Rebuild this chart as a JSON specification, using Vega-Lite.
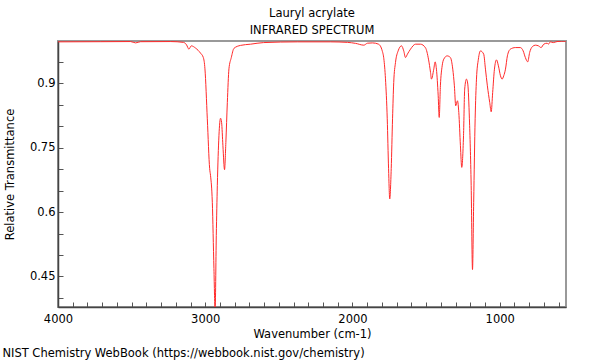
{
  "$schema": "https://vega.github.io/schema/vega-lite/v6.json",
  "background": "white",
  "padding": {"left": 2, "top": 6, "right": 5, "bottom": 2},
  "config": {
    "font": "DejaVu Sans",
    "view": {"stroke": "#999999", "strokeWidth": 2},
    "title": {"font": "DejaVu Sans", "fontWeight": "normal", "fontSize": 11.5, "color": "#000000"}
  },
  "title": {"text": "NIST Chemistry WebBook (https://webbook.nist.gov/chemistry)", "orient": "bottom", "anchor": "start", "fontSize": 11.5, "fontWeight": "normal", "offset": 7, "dx": -1},
  "vconcat": [
    {
      "width": 508,
      "height": 266,
      "title": {"text": ["Lauryl acrylate", "INFRARED SPECTRUM"], "fontSize": 11.5, "fontWeight": "normal", "lineHeight": 17, "offset": 5},
      "data": {"values": [
        {"wn": 4000, "t": 0.996}, {"wn": 3710, "t": 0.9964}, {"wn": 3507, "t": 0.9967}, {"wn": 3473, "t": 0.9936},
        {"wn": 3439, "t": 0.9964}, {"wn": 3235, "t": 0.9967}, {"wn": 3147, "t": 0.9948}, {"wn": 3127, "t": 0.989},
        {"wn": 3111, "t": 0.979}, {"wn": 3095, "t": 0.9867}, {"wn": 3065, "t": 0.9813}, {"wn": 3032, "t": 0.9697},
        {"wn": 3013, "t": 0.9595}, {"wn": 3002, "t": 0.9332}, {"wn": 2986, "t": 0.817}, {"wn": 2970, "t": 0.7009},
        {"wn": 2964, "t": 0.6846}, {"wn": 2952, "t": 0.6226}, {"wn": 2941, "t": 0.4686}, {"wn": 2933, "t": 0.37},
        {"wn": 2925, "t": 0.5452}, {"wn": 2918, "t": 0.6614}, {"wn": 2907, "t": 0.7776}, {"wn": 2896, "t": 0.8182},
        {"wn": 2889, "t": 0.8085}, {"wn": 2880, "t": 0.7543}, {"wn": 2869, "t": 0.6986}, {"wn": 2860, "t": 0.762},
        {"wn": 2850, "t": 0.8549}, {"wn": 2839, "t": 0.9332}, {"wn": 2823, "t": 0.9595}, {"wn": 2805, "t": 0.9809},
        {"wn": 2760, "t": 0.9878}, {"wn": 2692, "t": 0.9906}, {"wn": 2604, "t": 0.9943}, {"wn": 2373, "t": 0.996},
        {"wn": 2149, "t": 0.996}, {"wn": 2034, "t": 0.9948}, {"wn": 1979, "t": 0.9925}, {"wn": 1923, "t": 0.9883},
        {"wn": 1898, "t": 0.9929}, {"wn": 1864, "t": 0.9936}, {"wn": 1823, "t": 0.9906}, {"wn": 1798, "t": 0.975},
        {"wn": 1787, "t": 0.9565}, {"wn": 1776, "t": 0.91}, {"wn": 1764, "t": 0.817}, {"wn": 1755, "t": 0.7009},
        {"wn": 1747, "t": 0.6305}, {"wn": 1737, "t": 0.7009}, {"wn": 1728, "t": 0.817}, {"wn": 1720, "t": 0.9014},
        {"wn": 1708, "t": 0.9479}, {"wn": 1690, "t": 0.975}, {"wn": 1667, "t": 0.9867}, {"wn": 1652, "t": 0.975},
        {"wn": 1640, "t": 0.9595}, {"wn": 1627, "t": 0.9674}, {"wn": 1606, "t": 0.979}, {"wn": 1572, "t": 0.9906},
        {"wn": 1538, "t": 0.9906}, {"wn": 1504, "t": 0.982}, {"wn": 1484, "t": 0.9558}, {"wn": 1470, "t": 0.9246},
        {"wn": 1464, "t": 0.9093}, {"wn": 1448, "t": 0.9325}, {"wn": 1439, "t": 0.9495}, {"wn": 1430, "t": 0.9325},
        {"wn": 1418, "t": 0.8705}, {"wn": 1411, "t": 0.8201}, {"wn": 1403, "t": 0.8937}, {"wn": 1391, "t": 0.9402},
        {"wn": 1380, "t": 0.9558}, {"wn": 1357, "t": 0.9634}, {"wn": 1335, "t": 0.9595}, {"wn": 1319, "t": 0.9325},
        {"wn": 1308, "t": 0.8937}, {"wn": 1299, "t": 0.8473}, {"wn": 1287, "t": 0.8589}, {"wn": 1278, "t": 0.8317},
        {"wn": 1267, "t": 0.7543}, {"wn": 1258, "t": 0.7039}, {"wn": 1246, "t": 0.7776}, {"wn": 1238, "t": 0.8861},
        {"wn": 1226, "t": 0.9093}, {"wn": 1217, "t": 0.8977}, {"wn": 1206, "t": 0.817}, {"wn": 1194, "t": 0.6614},
        {"wn": 1185, "t": 0.4662}, {"wn": 1177, "t": 0.6226}, {"wn": 1167, "t": 0.817}, {"wn": 1158, "t": 0.9093},
        {"wn": 1145, "t": 0.9558}, {"wn": 1131, "t": 0.975}, {"wn": 1109, "t": 0.9674}, {"wn": 1097, "t": 0.9325},
        {"wn": 1084, "t": 0.8937}, {"wn": 1068, "t": 0.8549}, {"wn": 1058, "t": 0.8333}, {"wn": 1048, "t": 0.8782},
        {"wn": 1036, "t": 0.9325}, {"wn": 1022, "t": 0.9541}, {"wn": 1009, "t": 0.9402}, {"wn": 995, "t": 0.917},
        {"wn": 984, "t": 0.9093}, {"wn": 973, "t": 0.917}, {"wn": 961, "t": 0.9325}, {"wn": 948, "t": 0.9634},
        {"wn": 928, "t": 0.979}, {"wn": 894, "t": 0.9827}, {"wn": 860, "t": 0.9827}, {"wn": 841, "t": 0.975},
        {"wn": 826, "t": 0.9595}, {"wn": 810, "t": 0.9495}, {"wn": 797, "t": 0.9711}, {"wn": 778, "t": 0.985},
        {"wn": 758, "t": 0.9883}, {"wn": 737, "t": 0.9867}, {"wn": 719, "t": 0.9827}, {"wn": 701, "t": 0.9906},
        {"wn": 678, "t": 0.9929}, {"wn": 670, "t": 0.9906}, {"wn": 656, "t": 0.996}, {"wn": 636, "t": 0.9943},
        {"wn": 611, "t": 0.9967}, {"wn": 550, "t": 0.9976}
      ]},
      "mark": {"type": "line", "color": "#ff2a2a", "strokeWidth": 1, "interpolate": "monotone", "clip": true},
      "encoding": {
        "x": {
          "field": "wn", "type": "quantitative",
          "scale": {"domain": [4000, 550], "nice": false, "zero": false},
          "axis": {
            "title": "Wavenumber (cm-1)",
            "values": [600, 700, 800, 900, 1000, 1100, 1200, 1300, 1400, 1500, 1600, 1700, 1800, 1900, 2000, 2100, 2200, 2300, 2400, 2500, 2600, 2700, 2800, 2900, 3000, 3100, 3200, 3300, 3400, 3500, 3600, 3700, 3800, 3900, 4000],
            "format": "d",
            "labelExpr": "datum.value % 1000 === 0 ? datum.label : ''",
            "labelFlush": false,
            "grid": false,
            "tickSize": -5, "tickColor": "#555555", "tickWidth": 1,
            "domainColor": "#444444", "domainWidth": 1.5,
            "labelPadding": 11, "labelFontSize": 11.5, "labelColor": "#000000", "labelFont": "DejaVu Sans",
            "titleFontSize": 11.5, "titleFontWeight": "normal", "titleColor": "#000000", "titleFont": "DejaVu Sans", "titlePadding": 4
          }
        },
        "y": {
          "field": "t", "type": "quantitative",
          "scale": {"domain": [0.379, 0.998], "nice": false, "zero": false},
          "axis": {
            "title": "Relative Transmittance",
            "values": [0.4, 0.45, 0.5, 0.55, 0.6, 0.65, 0.7, 0.75, 0.8, 0.85, 0.9, 0.95],
            "format": ".2~f",
            "labelExpr": "indexof(['0.45', '0.6', '0.75', '0.9'], datum.label) >= 0 ? datum.label : ''",
            "labelFlush": false,
            "grid": false,
            "tickSize": -5, "tickColor": "#555555", "tickWidth": 1,
            "domainColor": "#444444", "domainWidth": 1.5,
            "labelPadding": 8, "labelFontSize": 11.5, "labelColor": "#000000", "labelFont": "DejaVu Sans",
            "titleFontSize": 11.5, "titleFontWeight": "normal", "titleColor": "#000000", "titleFont": "DejaVu Sans", "titlePadding": 14
          }
        }
      }
    }
  ]
}
